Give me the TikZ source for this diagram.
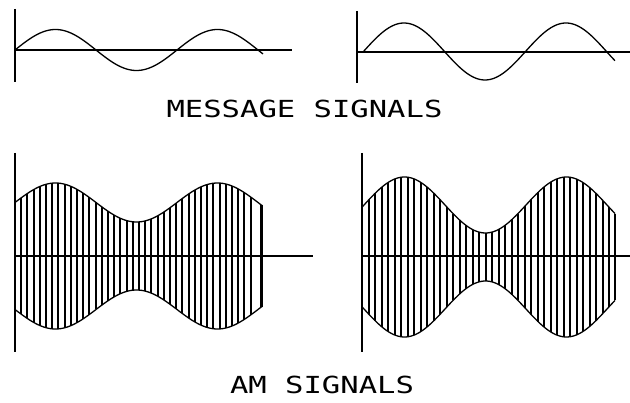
\documentclass[tikz,border=0pt]{standalone}
\usepackage{fontspec}
\newfontfamily\plotfont[FakeStretch=1.3]{DejaVu Sans Mono}
\begin{document}
\begin{tikzpicture}[x=1pt,y=-1pt,
  axis/.style={line width=1.5pt},
  wave/.style={line width=1.3pt},
  carrier/.style={line width=1.8pt},
  lbl/.style={font=\plotfont\fontsize{23.5}{28}\selectfont, inner sep=0pt}]
\useasboundingbox (0,0) rectangle (630,403);
% top-left message
\draw[axis] (15,9) -- (15,82);
\draw[axis] (15,50) -- (292,50);
\draw[wave] plot[domain=15:263,samples=120,smooth] (\x,{50-20.5*sin((\x-15)/162*360)});
% top-right message
\draw[axis] (357,11) -- (357,83);
\draw[axis] (357,52) -- (630,52);
\draw[wave] plot[domain=363:615,samples=120,smooth] (\x,{51.5-28.5*sin((\x-363.5)/162*360)});
\node[lbl] (msg) at (304.5,109) {MESSAGE SIGNALS};
% bottom-left AM
\draw[axis] (15,153) -- (15,352);
\draw[axis] (15,256) -- (313,256);
\draw[wave] plot[domain=15:262,samples=120,smooth] (\x,{256-(53.5+19.5*sin((\x-15)/162*360))});
\draw[wave] plot[domain=15:262,samples=120,smooth] (\x,{256+(53.5+19.5*sin((\x-15)/162*360))});
\foreach \x in {21.2,27.4,...,256} {
  \pgfmathsetmacro\xx{round(\x)}
  \pgfmathsetmacro\a{53.5+19.5*sin((\xx-15)/162*360)}
  \draw[carrier] (\xx,{256-\a}) -- (\xx,{256+\a});
}
\pgfmathsetmacro\b{53.5+19.5*sin((261-15)/162*360)}
\draw[line width=3pt] (261,{256-\b}) -- (261,{256+\b});
% bottom-right AM
\draw[axis] (362,153) -- (362,352);
\draw[axis] (362,256) -- (630,256);
\draw[wave] plot[domain=362:615,samples=120,smooth] (\x,{257-(52+28*sin((\x-364)/162*360))});
\draw[wave] plot[domain=362:615,samples=120,smooth] (\x,{257+(52+28*sin((\x-364)/162*360))});
\foreach \x in {368.5,375,...,612} {
  \pgfmathsetmacro\xx{round(\x)}
  \pgfmathsetmacro\a{52+28*sin((\xx-364)/162*360)}
  \draw[carrier] (\xx,{257-\a}) -- (\xx,{257+\a});
}
\pgfmathsetmacro\c{52+28*sin((615-364)/162*360)}
\draw[carrier] (615,{257-\c}) -- (615,{257+\c});
\node[lbl] (am) at (322,385) {AM SIGNALS};
\end{tikzpicture}
\end{document}
